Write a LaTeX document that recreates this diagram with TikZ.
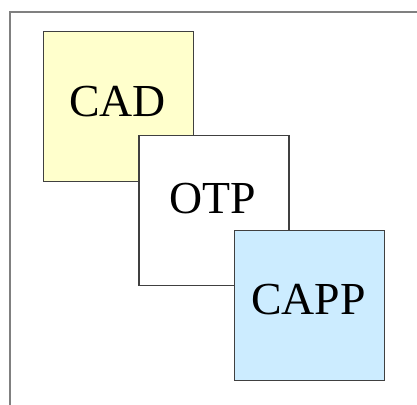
\documentclass[tikz,border=0pt]{standalone}
\usepackage{fontspec}
\newfontfamily\lblfont{Liberation Serif}
\definecolor{cadfill}{HTML}{FFFFCC}
\definecolor{cappfill}{HTML}{CCECFF}
\definecolor{edge}{HTML}{404040}
\definecolor{framec}{HTML}{808080}
\begin{document}
\begin{tikzpicture}[x=1bp,y=-1bp,
  sq/.style={draw=edge,line width=1.6bp,minimum width=150bp,minimum height=150bp,inner sep=0pt,anchor=north west},
  lbl/.style={font=\lblfont\fontsize{46}{50}\selectfont,inner sep=0pt}]
\useasboundingbox (0,0) rectangle (417,405);
\coordinate (fbl) at (10,410);
\coordinate (ftl) at (10,12);
\coordinate (ftr) at (420,12);
\draw[framec,line width=2.2bp] (fbl) -- (ftl) -- (ftr);
\node[sq,fill=cadfill] (cad) at (42.5,30.5) {};
\node[lbl] (cadt) at (117.5,101.5) {CAD};
\node[sq,fill=white] (otp) at (138,134.5) {};
\node[lbl] (otpt) at (212.5,198.5) {OTP};
\node[sq,fill=cappfill] (capp) at (233.5,229.5) {};
\node[lbl] (cappt) at (308.5,300) {CAPP};
\end{tikzpicture}
\end{document}
